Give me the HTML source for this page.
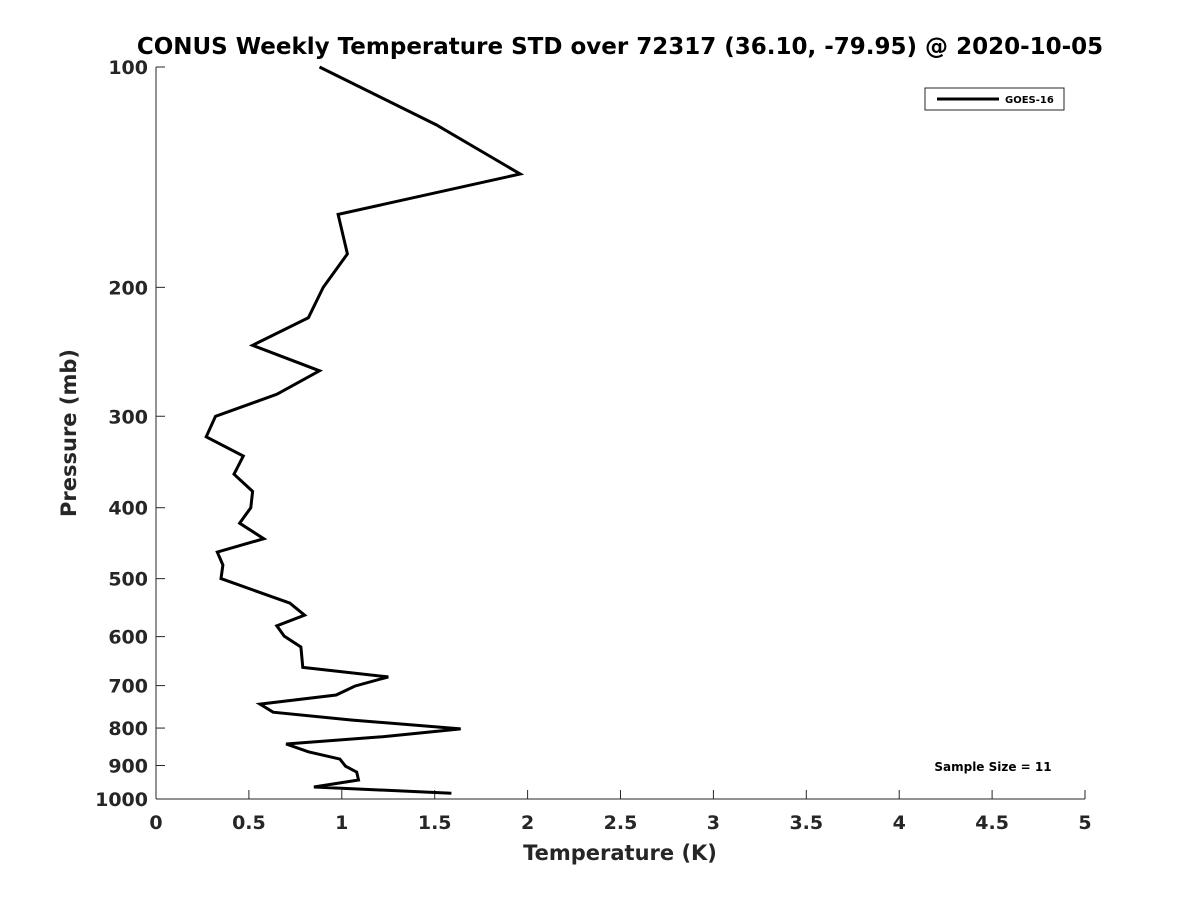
<!DOCTYPE html>
<html><head><meta charset="utf-8"><style>
body{margin:0;background:#fff;}
svg{display:block;font-family:"DejaVu Sans","Liberation Sans",sans-serif;}
</style></head><body>
<svg id="chart" width="1200" height="900">
<text x="620" y="54" text-anchor="middle" font-size="23" font-weight="bold">CONUS Weekly Temperature STD over 72317 (36.10, -79.95) @ 2020-10-05</text>
<g id="axes"></g>
<text x="620" y="860" text-anchor="middle" font-size="21" font-weight="bold" fill="#262626">Temperature (K)</text>
<text transform="translate(76,433) rotate(-90)" text-anchor="middle" font-size="21" font-weight="bold" fill="#262626">Pressure (mb)</text>
<g>
<rect x="925" y="88" width="139" height="22" fill="#fff" stroke="#262626" stroke-width="1"/>
<line x1="937" y1="99" x2="999" y2="99" stroke="#000" stroke-width="3"/>
<text x="1005" y="103" font-size="10" font-weight="bold">GOES-16</text>
</g>
<text x="993" y="771" text-anchor="middle" font-size="12" font-weight="bold">Sample Size = 11</text>
</svg>
<script>
const temperatures=[0.88,1.51,1.96,0.98,1.03,0.90,0.82,0.52,0.88,0.65,0.32,0.27,0.47,0.42,0.52,0.51,0.45,0.58,0.33,0.36,0.35,0.72,0.80,0.65,0.69,0.78,0.79,1.25,1.07,0.97,0.56,0.63,1.05,1.64,1.22,0.70,0.82,0.99,1.02,1.08,1.09,0.85,1.59];
const pressures=[100,120,140,159,180,200,220,240,260,280,300,320,340,360,380,400,420,441,460,479,500,540,561,580,599,620,661,681,701,721,742,761,780,802,822,841,862,882,902,919,942,963,982];
const xTicks=[0,0.5,1,1.5,2,2.5,3,3.5,4,4.5,5];
const xTickLabels=["0","0.5","1","1.5","2","2.5","3","3.5","4","4.5","5"];
const yTicks=[100,200,300,400,500,600,700,800,900,1000];
const yTickLabels=["100","200","300","400","500","600","700","800","900","1000"];
const L=156,R=1085,T=67,B=799;
const xs=v=>L+(v-0)/5*(R-L);
const ys=p=>T+(Math.log10(p)-2)*(B-T);
const NS="http://www.w3.org/2000/svg";
const g=document.getElementById('axes');
function mk(t,a){const e=document.createElementNS(NS,t);for(const k in a)e.setAttribute(k,a[k]);return e;}
const xl=mk('line',{x1:L,y1:B,x2:R,y2:B,stroke:'#262626','stroke-width':1});


g.appendChild(xl);
const yl=mk('line',{x1:L,y1:T,x2:L,y2:B,stroke:'#262626','stroke-width':1});


g.appendChild(yl);
xTicks.forEach((v,i)=>{
 const x=xs(v);
 g.appendChild(mk('line',{x1:x,y1:B,x2:x,y2:B-9,stroke:'#262626'}));
 const t=mk('text',{x:x,y:B+30,'text-anchor':'middle','font-size':19,'font-weight':'bold',fill:'#262626'});
 t.textContent=xTickLabels[i];
 
 
 g.appendChild(t);
});
yTicks.forEach((v,i)=>{
 const y=ys(v);
 g.appendChild(mk('line',{x1:L,y1:y,x2:L+9,y2:y,stroke:'#262626'}));
 const t=mk('text',{x:L-8,y:y+7,'text-anchor':'end','font-size':19,'font-weight':'bold',fill:'#262626'});
 t.textContent=yTickLabels[i];
 
 
 g.appendChild(t);
});
const pts=temperatures.map((v,i)=>xs(v).toFixed(1)+','+ys(pressures[i]).toFixed(1)).join(' ');
const pl=mk('polyline',{points:pts,fill:'none',stroke:'#000','stroke-width':3,'stroke-linejoin':'miter'});


g.appendChild(pl);
</script>
</body></html>
